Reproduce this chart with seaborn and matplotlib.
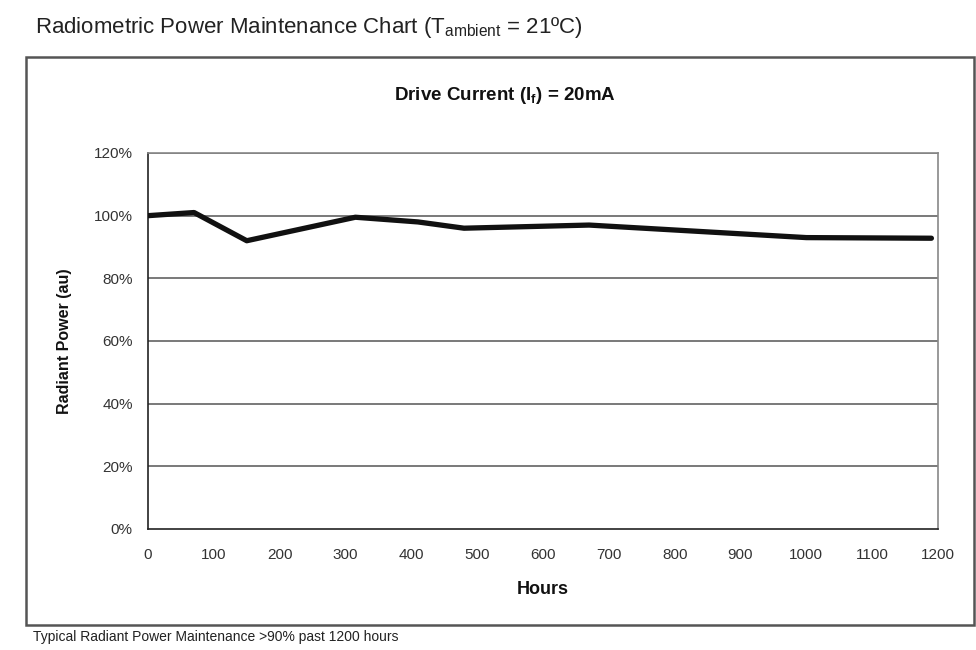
import matplotlib
matplotlib.use("Agg")
import matplotlib.pyplot as plt
import matplotlib.patches as mpatches
import seaborn as sns
import pandas as pd

hours = [0, 70, 150, 315, 410, 480, 670, 1000, 1190]
power = [100, 101, 92, 99.5, 98, 96, 97, 93, 92.8]
x_ticks = [0, 100, 200, 300, 400, 500, 600, 700, 800, 900, 1000, 1100, 1200]
y_ticks = [0, 20, 40, 60, 80, 100, 120]
y_tick_labels = ["0%", "20%", "40%", "60%", "80%", "100%", "120%"]

sns.set_style("white")
plt.rcParams['font.family'] = ['Liberation Sans', 'DejaVu Sans']
plt.rcParams['mathtext.fontset'] = 'custom'
plt.rcParams['mathtext.rm'] = 'Liberation Sans'
plt.rcParams['mathtext.bf'] = 'Liberation Sans:bold'

df = pd.DataFrame({"Hours": hours, "Power": power})

fig = plt.figure(figsize=(9.76, 6.5), dpi=100)
ax = fig.add_axes([148/976, 1-529/650, (938-148)/976, (529-153)/650])

# outer chart frame
frame = mpatches.Rectangle((26/976, 1-625/650), (974-26)/976, (625-57)/650,
                           transform=fig.transFigure, fill=False,
                           edgecolor="#555555", linewidth=1.8, zorder=0)
fig.patches.append(frame)

for yv in y_ticks[1:]:
    ax.axhline(yv, color="#555555", linewidth=1.1, zorder=1)

sns.lineplot(data=df, x="Hours", y="Power", ax=ax, color="#111111",
             linewidth=3.8, zorder=3)

ax.set_xlim(0, 1200)
ax.set_ylim(0, 120)
ax.set_xticks(x_ticks)
ax.set_xticklabels([str(t) for t in x_ticks])
ax.set_yticks(y_ticks)
ax.set_yticklabels(y_tick_labels)
ax.tick_params(axis="both", direction="out", length=5, width=1,
               color="#222222", labelsize=11, labelcolor="#333333")
ax.tick_params(axis="x", pad=9)
ax.tick_params(axis="y", pad=6)

for s in ["left", "bottom"]:
    ax.spines[s].set_color("#222222")
    ax.spines[s].set_linewidth(1.2)
for s in ["top", "right"]:
    ax.spines[s].set_color("#888888")
    ax.spines[s].set_linewidth(1.2)

ax.set_xlabel("Hours", fontsize=13, fontweight="bold", labelpad=13, color="#111111")
ax.set_ylabel("Radiant Power (au)", fontsize=11.5, fontweight="bold", labelpad=16, color="#111111")

fig.text(35/976, 1-28/650, r"Radiometric Power Maintenance Chart (T$_{\mathregular{ambient}}$ = 21ºC)",
         fontsize=16, va="center", ha="left", color="#222222")
fig.text(505/976, 1-96/650, r"Drive Current (I$_{\mathbf{f}}$) = 20mA",
         fontsize=13.5, fontweight="bold", va="center", ha="center", color="#111111")
fig.text(33/976, 1-637/650, "Typical Radiant Power Maintenance >90% past 1200 hours",
         fontsize=10, va="center", ha="left", color="#222222")

fig.savefig("out.png", dpi=100)
